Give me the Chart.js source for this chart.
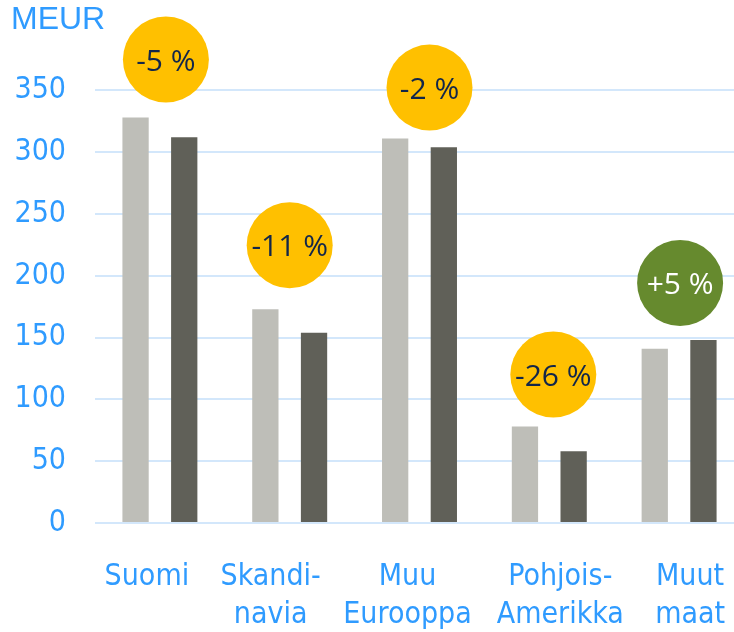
<!DOCTYPE html>
<html>
<head>
<meta charset="utf-8">
<script src="https://cdn.jsdelivr.net/npm/chart.js@4/dist/chart.umd.min.js"></script>
<style>
  html, body { margin: 0; padding: 0; background: #ffffff; overflow: hidden; width: 734px; height: 632px; }
  #wrap { width: 744px; height: 632px; }
</style>
</head>
<body>
<div id="wrap"><canvas id="c" width="744" height="632"></canvas></div>
<script>
// ---- data ----
const categories = ['Suomi', ['Skandi-', 'navia'], ['Muu', 'Eurooppa'], ['Pohjois-', 'Amerikka'], ['Muut', 'maat']];
const previousYear = [328, 173, 311, 78, 141];
const currentYear = [312, 154, 304, 58, 148];
const changeLabels = ['-5 %', '-11 %', '-2 %', '-26 %', '+5 %'];
const yTicks = [0, 50, 100, 150, 200, 250, 300, 350];

const BLUE = '#2F9BFF';
const FONT = "'DejaVu Sans Condensed', 'DejaVu Sans', sans-serif";

// label placement nudges (pixels, styling only)
const labelNudge = [-13, -19, -12, 11, 11];
const badgeNudgeX = [3, -3, 7, 1, -2];
const badgeNudgeY = [-1, -7, 6, 5, 0];

const badgePlugin = {
  id: 'badges',
  afterDatasetsDraw(chart) {
    const ctx = chart.ctx;
    const xs = chart.scales.x, ys = chart.scales.y;
    ctx.save();
    changeLabels.forEach((lab, i) => {
      const top = Math.max(previousYear[i], currentYear[i]);
      const cx = xs.getPixelForValue(i) + 3 + badgeNudgeX[i];
      const cy = ys.getPixelForValue(top) - 57 + badgeNudgeY[i];
      const positive = lab.trim().startsWith('+');
      ctx.beginPath();
      ctx.arc(cx, cy, 43, 0, Math.PI * 2);
      ctx.fillStyle = positive ? '#668A2E' : '#FFC000';
      ctx.fill();
      ctx.fillStyle = positive ? '#FFFFFF' : '#12264A';
      ctx.font = "30px 'Open Sans', sans-serif";
      ctx.textAlign = 'center';
      ctx.textBaseline = 'alphabetic';
      ctx.fillText(lab, cx, cy + 11);
    });
    ctx.restore();
  }
};

const xLabelPlugin = {
  id: 'xlabels',
  afterDraw(chart) {
    const ctx = chart.ctx;
    const xs = chart.scales.x;
    const base = chart.chartArea.bottom;
    ctx.save();
    ctx.fillStyle = BLUE;
    ctx.font = "30px " + FONT;
    ctx.textAlign = 'center';
    ctx.textBaseline = 'alphabetic';
    categories.forEach((lab, i) => {
      const lines = Array.isArray(lab) ? lab : [lab];
      const x = xs.getPixelForValue(i) + labelNudge[i];
      lines.forEach((ln, j) => ctx.fillText(ln, x, base + 62 + j * 38));
    });
    ctx.restore();
  }
};

new Chart(document.getElementById('c'), {
  type: 'bar',
  data: {
    labels: categories,
    datasets: [
      { label: 'Edellinen', data: previousYear, backgroundColor: '#BEBEB8', categoryPercentage: 0.75, barPercentage: 0.54 },
      { label: 'Nykyinen', data: currentYear, backgroundColor: '#606058', categoryPercentage: 0.75, barPercentage: 0.54 }
    ]
  },
  options: {
    responsive: false,
    animation: false,
    layout: { padding: { left: 11, right: 0, top: 0, bottom: 0 } },
    plugins: {
      legend: { display: false },
      tooltip: { enabled: false },
      title: {
        display: true,
        text: 'MEUR',
        align: 'start',
        color: BLUE,
        font: { family: "'Liberation Sans', Arial, sans-serif", size: 32, weight: 'normal', lineHeight: 1.2 },
        padding: { top: 1, bottom: 51 }
      }
    },
    scales: {
      x: {
        grid: { display: false },
        border: { display: false },
        ticks: { display: false },
        afterFit(s) { s.height = 109; s.paddingLeft = 0; s.paddingRight = 0; }
      },
      y: {
        min: 0,
        max: 350,
        afterBuildTicks(s) { s.ticks = yTicks.map(v => ({ value: v })); },
        grid: { color: '#D3E7FB', lineWidth: 2, drawTicks: false },
        border: { display: false },
        ticks: {
          color: BLUE,
          font: { family: FONT, size: 30 },
          padding: 29
        },
        afterFit(s) { s.width = 84; s.paddingTop = 0; s.paddingBottom = 0; }
      }
    }
  },
  plugins: [badgePlugin, xLabelPlugin]
});
</script>
</body>
</html>
